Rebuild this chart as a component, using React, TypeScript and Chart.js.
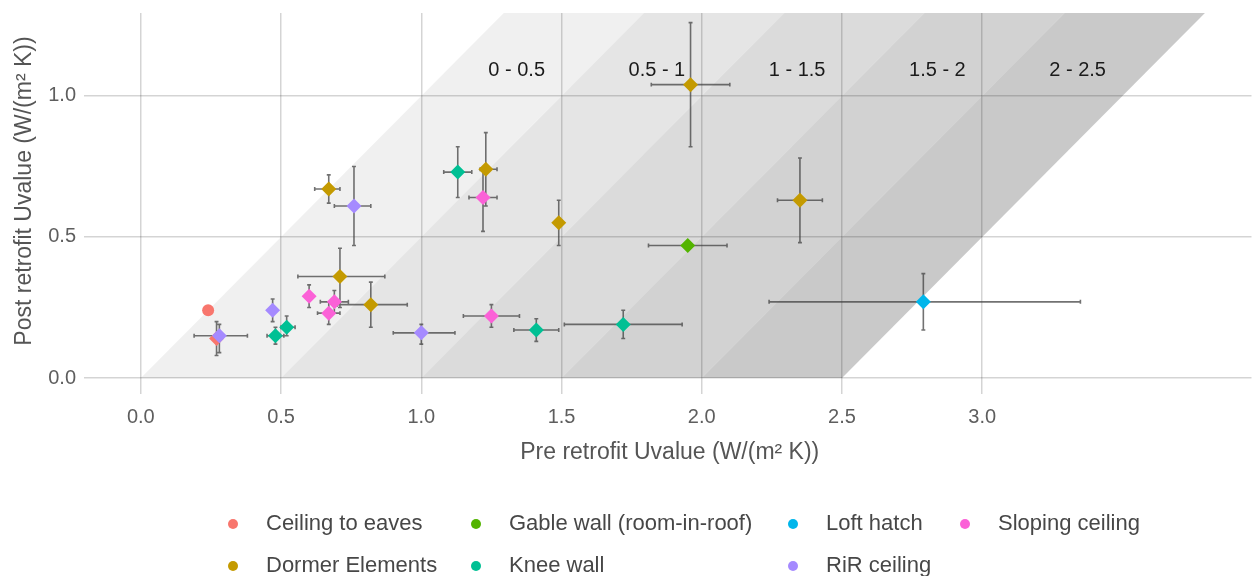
import React, { useEffect, useRef } from 'react';
import { Chart, registerables } from 'chart.js';

Chart.register(...registerables);

// ---- Axis ticks ----
const xTicks = [0, 0.5, 1, 1.5, 2, 2.5, 3];
const xTickLabels = ['0.0', '0.5', '1.0', '1.5', '2.0', '2.5', '3.0'];
const yTicks = [0, 0.5, 1];
const yTickLabels = ['0.0', '0.5', '1.0'];
const xTitle = 'Pre retrofit Uvalue (W/(m\u00B2 K))';
const yTitle = 'Post retrofit Uvalue (W/(m\u00B2 K))';

// ---- U-value reduction bands (pre - post) ----
const bandLower = [0, 0.5, 1, 1.5, 2];
const bandWidth = 0.5;
const bandLabels = ['0 - 0.5', '0.5 - 1', '1 - 1.5', '1.5 - 2', '2 - 2.5'];
const bandLabelY = 1.09;

// ---- Element categories ----
const categories = [
  'Ceiling to eaves',
  'Dormer Elements',
  'Gable wall (room-in-roof)',
  'Knee wall',
  'Loft hatch',
  'RiR ceiling',
  'Sloping ceiling',
];

// Ceiling to eaves
const ceilingPre = [0.24, 0.27];
const ceilingPost = [0.24, 0.14];
const ceilingPreRange = [null, null];
const ceilingPostRange = [null, [0.08, 0.2]];

// Dormer Elements
const dormerPre = [0.67, 0.71, 0.82, 1.23, 1.49, 1.96, 2.35];
const dormerPost = [0.67, 0.36, 0.26, 0.74, 0.55, 1.04, 0.63];
const dormerPreRange = [[0.62, 0.71], [0.56, 0.87], [0.7, 0.95], [1.21, 1.27], null, [1.82, 2.1], [2.27, 2.43]];
const dormerPostRange = [[0.62, 0.72], [0.25, 0.46], [0.18, 0.34], [0.61, 0.87], [0.47, 0.63], [0.82, 1.26], [0.48, 0.78]];

// Gable wall (room-in-roof)
const gablePre = [1.95];
const gablePost = [0.47];
const gablePreRange = [[1.81, 2.09]];
const gablePostRange = [null];

// Knee wall
const kneePre = [0.48, 0.52, 1.13, 1.41, 1.72];
const kneePost = [0.15, 0.18, 0.73, 0.17, 0.19];
const kneePreRange = [[0.45, 0.51], [0.5, 0.55], [1.08, 1.18], [1.33, 1.49], [1.51, 1.93]];
const kneePostRange = [[0.12, 0.18], [0.15, 0.22], [0.64, 0.82], [0.13, 0.21], [0.14, 0.24]];

// Loft hatch
const loftPre = [2.79];
const loftPost = [0.27];
const loftPreRange = [[2.24, 3.35]];
const loftPostRange = [[0.17, 0.37]];

// RiR ceiling
const rirPre = [0.28, 0.47, 0.76, 1.0];
const rirPost = [0.15, 0.24, 0.61, 0.16];
const rirPreRange = [[0.19, 0.38], null, [0.69, 0.82], [0.9, 1.12]];
const rirPostRange = [[0.09, 0.19], [0.2, 0.28], [0.47, 0.75], [0.12, 0.19]];

// Sloping ceiling
const slopingPre = [0.6, 0.69, 0.67, 1.22, 1.25];
const slopingPost = [0.29, 0.27, 0.23, 0.64, 0.22];
const slopingPreRange = [null, [0.64, 0.74], [0.63, 0.71], [1.17, 1.27], [1.15, 1.35]];
const slopingPostRange = [[0.25, 0.33], [0.23, 0.31], [0.19, 0.27], [0.52, 0.74], [0.18, 0.26]];

const seriesPre = [ceilingPre, dormerPre, gablePre, kneePre, loftPre, rirPre, slopingPre];
const seriesPost = [ceilingPost, dormerPost, gablePost, kneePost, loftPost, rirPost, slopingPost];
const seriesPreRange = [ceilingPreRange, dormerPreRange, gablePreRange, kneePreRange, loftPreRange, rirPreRange, slopingPreRange];
const seriesPostRange = [ceilingPostRange, dormerPostRange, gablePostRange, kneePostRange, loftPostRange, rirPostRange, slopingPostRange];

// ---- Styling ----
const colors = ['#F8766D', '#C49A00', '#53B400', '#00C094', '#00B6EB', '#A58AFF', '#FB61D7'];
const bandAlphas = [0.06, 0.1, 0.14, 0.175, 0.21];
const FONT = "'Liberation Sans', Arial, Helvetica, sans-serif";
// legend laid out column by column, 2 rows
const legendColumns = [[0, 1], [2, 3], [4, 5], [6]];
const legendColX = [233, 476, 793, 965];
const legendRowY = [524, 566];

type Range = number[] | null;

function buildWhiskers(): { x: number; y: number | null }[] {
  const cap = 0.007;
  const out: { x: number; y: number | null }[] = [];
  const gap = (x: number) => out.push({ x, y: null });
  seriesPre.forEach((pres, s) => {
    pres.forEach((px, i) => {
      const py = seriesPost[s][i];
      const xr = seriesPreRange[s][i] as Range;
      const yr = seriesPostRange[s][i] as Range;
      if (xr) {
        out.push({ x: xr[0], y: py }, { x: xr[1], y: py });
        gap(xr[1]);
        out.push({ x: xr[0], y: py - cap }, { x: xr[0], y: py + cap });
        gap(xr[0]);
        out.push({ x: xr[1], y: py - cap }, { x: xr[1], y: py + cap });
        gap(xr[1]);
      }
      if (yr) {
        out.push({ x: px, y: yr[0] }, { x: px, y: yr[1] });
        gap(px);
        out.push({ x: px - cap, y: yr[0] }, { x: px + cap, y: yr[0] });
        gap(px);
        out.push({ x: px - cap, y: yr[1] }, { x: px + cap, y: yr[1] });
        gap(px);
      }
    });
  });
  return out;
}

const textPlugin = {
  id: 'chartText',
  afterDatasetsDraw(chart: any) {
    const { ctx, scales } = chart;
    const xs = scales.x;
    const ys = scales.y;
    ctx.save();
    ctx.fillStyle = '#1a1a1a';
    ctx.font = `20px ${FONT}`;
    ctx.textAlign = 'center';
    ctx.textBaseline = 'middle';
    bandLower.forEach((lo, i) => {
      const cx = lo + bandWidth / 2 + bandLabelY;
      ctx.fillText(bandLabels[i], xs.getPixelForValue(cx), ys.getPixelForValue(bandLabelY));
    });
    ctx.restore();
  },
  afterDraw(chart: any) {
    const { ctx, scales, chartArea } = chart;
    const xs = scales.x;
    const ys = scales.y;
    ctx.save();
    // tick labels
    ctx.fillStyle = '#5e5e5e';
    ctx.font = `20px ${FONT}`;
    ctx.textBaseline = 'middle';
    ctx.textAlign = 'center';
    xTicks.forEach((v, i) => {
      ctx.fillText(xTickLabels[i], xs.getPixelForValue(v), chartArea.bottom + 23);
    });
    ctx.textAlign = 'right';
    yTicks.forEach((v, i) => {
      ctx.fillText(yTickLabels[i], chartArea.left - 8, ys.getPixelForValue(v));
    });
    // axis titles
    ctx.fillStyle = '#555555';
    ctx.font = `23px ${FONT}`;
    ctx.textAlign = 'center';
    ctx.fillText(xTitle, (chartArea.left + chartArea.right) / 2 + 2, chartArea.bottom + 59);
    ctx.save();
    ctx.translate(25, 191);
    ctx.rotate(-Math.PI / 2);
    ctx.fillText(yTitle, 0, 0);
    ctx.restore();
    // legend
    ctx.font = `22px ${FONT}`;
    ctx.textAlign = 'left';
    legendColumns.forEach((col, c) => {
      col.forEach((s, r) => {
        const cx = legendColX[c];
        const cy = legendRowY[r];
        ctx.fillStyle = colors[s];
        ctx.beginPath();
        ctx.arc(cx, cy, 5, 0, Math.PI * 2);
        ctx.fill();
        ctx.fillStyle = '#474747';
        ctx.fillText(categories[s], cx + 33, cy);
      });
    });
    ctx.restore();
  },
};

export default function App() {
  const canvasRef = useRef<HTMLCanvasElement | null>(null);

  useEffect(() => {
    const canvas = canvasRef.current;
    if (!canvas) return;

    const top = 1.6;
    const bandSets = bandLower.map((lo, i) => ({
      type: 'line',
      label: bandLabels[i],
      data: [
        { x: lo, y: 0 },
        { x: lo + bandWidth, y: 0 },
        { x: lo + bandWidth + top, y: top },
        { x: lo + top, y: top },
        { x: lo, y: 0 },
      ],
      fill: 'shape',
      backgroundColor: `rgba(0,0,0,${bandAlphas[i]})`,
      borderWidth: 0,
      borderColor: 'rgba(0,0,0,0)',
      pointRadius: 0,
      tension: 0,
      order: 3,
    }));

    const whiskerSet = {
      type: 'line',
      label: 'errors',
      data: buildWhiskers(),
      borderColor: 'rgba(60,60,60,0.72)',
      borderWidth: 1.6,
      pointRadius: 0,
      fill: false,
      spanGaps: false,
      tension: 0,
      order: 2,
    };

    // later categories sit on top of earlier ones
    const pointSets = categories.map((name, s) => ({
      type: 'line',
      label: name,
      data: seriesPre[s].map((x, i) => ({ x, y: seriesPost[s][i] })),
      showLine: false,
      backgroundColor: colors[s],
      borderColor: colors[s],
      pointBackgroundColor: colors[s],
      pointBorderWidth: 0,
      pointStyle: seriesPre[s].map((_, i) => (s === 0 && i === 0 ? 'circle' : 'rectRot')),
      pointRadius: seriesPre[s].map((_, i) => (s === 0 && i === 0 ? 6 : 7.5)),
      order: 1 + (categories.length - 1 - s) * 0.01,
    }));

    const chart = new Chart(canvas, {
      type: 'line',
      data: { datasets: [...pointSets, whiskerSet, ...bandSets] as any },
      options: {
        animation: false,
        responsive: true,
        maintainAspectRatio: false,
        events: [],
        layout: { padding: { left: 84, top: 13, right: 4, bottom: 182 } },
        plugins: {
          legend: { display: false },
          tooltip: { enabled: false },
          title: { display: false },
        },
        scales: {
          x: {
            type: 'linear',
            min: -0.2026,
            max: 3.96,
            afterBuildTicks: (scale: any) => {
              scale.ticks = xTicks.map((v) => ({ value: v }));
            },
            ticks: { display: false },
            grid: { color: 'rgba(0,0,0,0.17)', lineWidth: 1.5, drawTicks: false },
            border: { display: false },
          },
          y: {
            type: 'linear',
            min: -0.0567,
            max: 1.294,
            afterBuildTicks: (scale: any) => {
              scale.ticks = yTicks.map((v) => ({ value: v }));
            },
            ticks: { display: false },
            grid: { color: 'rgba(0,0,0,0.17)', lineWidth: 1.5, drawTicks: false },
            border: { display: false },
          },
        },
      } as any,
      plugins: [textPlugin],
    });

    return () => chart.destroy();
  }, []);

  return (
    <div style={{ position: 'absolute', left: 0, top: 0, width: 1259, height: 576, background: '#ffffff' }}>
      <canvas ref={canvasRef} />
    </div>
  );
}
